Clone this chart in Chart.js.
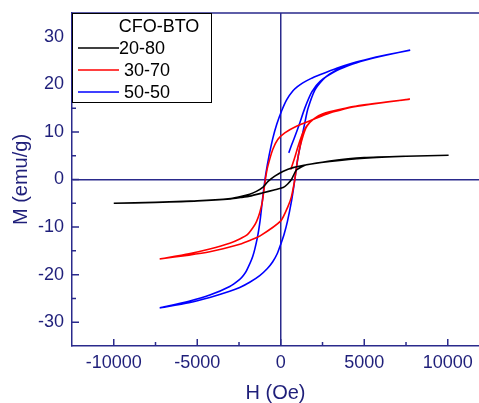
<!DOCTYPE html>
<html><head><meta charset="utf-8">
<script src="https://cdn.jsdelivr.net/npm/chart.js@4.4.0/dist/chart.umd.min.js"></script>
<style>html,body{margin:0;padding:0;background:#fff;overflow:hidden}#wrap{width:479px;height:403px}</style>
</head><body><div id="wrap"><canvas id="c" width="479" height="403"></canvas></div>
<script>
// ---- data ----
const legendTitle = 'CFO-BTO';
const seriesNames = ['20-80', '30-70', '50-50'];
const xTitle = 'H (Oe)';
const yTitle = 'M (emu/g)';
const xTickValues = [-10000, -7500, -5000, -2500, 0, 2500, 5000, 7500, 10000];
const xMajorTicks = [-10000, -5000, 0, 5000, 10000];
const yTickValues = [-30, -25, -20, -15, -10, -5, 0, 5, 10, 15, 20, 25, 30];
const yMajorTicks = [-30, -20, -10, 0, 10, 20, 30];

// 20-80 (black)
const hDown20 = [10050, 7500, 5000, 2935, 1740, 740, 120, -360, -760, -1060, -1460, -1860, -2400, -3000, -5000, -7500, -10000];
const mDown20 = [5.1, 4.9, 4.6, 3.9, 3.2, 2.5, 1.7, 0.7, -0.4, -1.6, -2.5, -3.1, -3.6, -4.0, -4.5, -4.8, -5.0];
const hUp20 = [-10000, -7500, -5000, -3000, -2400, -1860, -1060, -400, 140, 400, 640, 940, 1540, 2935, 5000, 7500, 10050];
const mUp20 = [-5.0, -4.8, -4.5, -4.1, -3.8, -3.5, -2.8, -2.2, -1.7, -1.0, 0, 2.0, 3.1, 3.8, 4.5, 4.9, 5.1];

// 30-70 (red)
const hInit30 = [600, 800, 1040, 1300, 1540, 2000, 2520, 3500, 5000, 7730];
const mInit30 = [2.1, 4.2, 7.0, 9.6, 11.2, 12.8, 13.8, 14.7, 15.7, 16.9];
const hDown30 = [7730, 5300, 4100, 2935, 1920, 940, 240, -180, -480, -780, -900, -1000, -1100, -1260, -1460, -1660, -2000, -2455, -3055, -4250, -5500, -7250];
const mDown30 = [16.9, 15.8, 15.2, 14.0, 12.6, 11.2, 9.8, 8.4, 6.3, 2.7, 0.5, -2.0, -4.6, -7.0, -8.9, -10.1, -11.6, -12.5, -13.4, -14.6, -15.6, -16.7];
const hUp30 = [-7250, -5500, -4250, -3055, -2455, -1860, -1260, 0, 440, 640, 840, 1000, 1200, 1500, 1740, 2000, 2400, 2935, 4100, 5300, 7730];
const mUp30 = [-16.7, -15.9, -15.2, -14.2, -13.6, -12.8, -11.9, -8.7, -5.6, -3.6, 0, 4.0, 7.5, 10.8, 12.0, 12.8, 13.5, 14.0, 15.1, 15.8, 16.9];

// 50-50 (blue)
const hInit50 = [480, 620, 800, 1000, 1140, 1440, 1860, 2340, 3350, 4310, 5500, 6350, 7750];
const mInit50 = [5.6, 7.0, 8.6, 10.5, 11.9, 15.0, 18.4, 20.6, 22.9, 24.3, 25.5, 26.2, 27.2];
const hDown50 = [7750, 6350, 5300, 4310, 3350, 2340, 1800, 1320, 1000, 720, 360, 60, -240, -480, -700, -880, -1000, -1120, -1240, -1400, -1680, -2040, -2240, -2455, -3055, -4250, -5500, -7250];
const mDown50 = [27.2, 26.2, 25.4, 24.5, 23.4, 22.0, 21.2, 20.3, 19.5, 18.6, 16.8, 14.5, 11.6, 8.6, 5.0, 1.5, -1.5, -5.0, -8.7, -12.2, -16.2, -19.1, -20.2, -21.0, -22.5, -24.3, -25.6, -27.0];
const hUp50 = [-7250, -5500, -4250, -3055, -2455, -1860, -1260, -800, -480, -200, 0, 200, 400, 640, 780, 900, 1020, 1270, 1440, 1620, 2040, 2520, 2935, 3500, 4310, 5500, 6350, 7750];
const mUp50 = [-27.0, -25.9, -24.8, -23.5, -22.7, -21.6, -20.2, -18.7, -17.3, -15.5, -13.6, -11.5, -8.8, -4.6, -1.5, 1.5, 4.4, 9.0, 11.9, 14.8, 18.8, 21.0, 22.2, 23.3, 24.4, 25.5, 26.2, 27.2];

// ---- build ----
function pts(h, m) { return h.map((v, i) => ({x: v, y: m[i]})); }
const AXIS = '#2a2a8c';
const TEXT = '#1f1f7a';
const FONT = "'Liberation Sans', Arial, sans-serif";

const datasets = [
  {label: seriesNames[0], data: [...pts(hDown20, mDown20), ...pts(hUp20, mUp20)], borderColor: '#000000'},
  {label: seriesNames[1], data: [...pts(hInit30, mInit30), ...pts(hDown30, mDown30), ...pts(hUp30, mUp30)], borderColor: '#ff0000'},
  {label: seriesNames[2], data: [...pts(hInit50, mInit50), ...pts(hDown50, mDown50), ...pts(hUp50, mUp50)], borderColor: '#0000ff'}
].map(d => Object.assign(d, {showLine: true, pointRadius: 0, borderWidth: 1.6, tension: 0.2, fill: false}));

const frame = {
  id: 'frame',
  afterDraw(chart) {
    const {ctx, chartArea: a, scales: {x, y}} = chart;
    ctx.save();
    ctx.strokeStyle = AXIS;
    ctx.lineWidth = 1.5;
    ctx.beginPath();
    ctx.moveTo(a.left, a.top); ctx.lineTo(a.right, a.top);
    x.ticks.forEach(t => {
      const px = x.getPixelForValue(t.value);
      const len = xMajorTicks.includes(t.value) ? 7 : 4;
      ctx.moveTo(px, a.bottom); ctx.lineTo(px, a.bottom - len);
    });
    y.ticks.forEach(t => {
      const py = y.getPixelForValue(t.value);
      const len = yMajorTicks.includes(t.value) ? 7 : 4;
      ctx.moveTo(a.left, py); ctx.lineTo(a.left + len, py);
    });
    ctx.stroke();

    // legend box
    const bx = a.left, by = a.top, bw = 139, bh = 89;
    ctx.fillStyle = '#ffffff';
    ctx.fillRect(bx, by, bw, bh);
    ctx.strokeStyle = '#000000';
    ctx.lineWidth = 1;
    ctx.strokeRect(bx + 0.5, by + 0.5, bw, bh);
    ctx.fillStyle = '#000000';
    ctx.font = '18px ' + FONT;
    ctx.textBaseline = 'middle';
    ctx.textAlign = 'center';
    ctx.fillText(legendTitle, bx + 87, by + 14);
    ctx.textAlign = 'left';
    const gaps = [0, 5, 5];
    chart.data.datasets.forEach((d, i) => {
      const ly = by + 35 + i * 22;
      ctx.strokeStyle = d.borderColor;
      ctx.lineWidth = 1.5;
      ctx.beginPath(); ctx.moveTo(bx + 6, ly); ctx.lineTo(bx + 47, ly); ctx.stroke();
      ctx.fillStyle = '#000000';
      ctx.fillText(d.label, bx + 47 + gaps[i], ly + 1);
    });
    ctx.restore();
  }
};

new Chart(document.getElementById('c'), {
  type: 'scatter',
  data: {datasets},
  options: {
    responsive: false,
    animation: false,
    devicePixelRatio: 1,
    layout: {padding: {top: 13, left: 0, right: 0, bottom: 0}},
    plugins: {legend: {display: false}, tooltip: {enabled: false}},
    scales: {
      x: {
        type: 'linear', min: -12500, max: 11870,
        afterBuildTicks: s => { s.ticks = xTickValues.map(v => ({value: v})); },
        afterFit: s => { s.height = 57; s.paddingLeft = 0; s.paddingRight = 0; },
        ticks: {color: TEXT, font: {family: FONT, size: 18}, padding: 6, maxRotation: 0, autoSkip: false,
          callback: v => xMajorTicks.includes(v) ? String(v) : ''},
        grid: {drawTicks: false, lineWidth: 1.5, color: c => (c.tick && c.tick.value === 0) ? AXIS : 'rgba(0,0,0,0)'},
        border: {color: AXIS, width: 1.5},
        title: {display: true, text: xTitle, color: TEXT, font: {family: FONT, size: 20, lineHeight: 1}, padding: {top: 0, bottom: 0}}
      },
      y: {
        type: 'linear', min: -35, max: 35,
        afterBuildTicks: s => { s.ticks = yTickValues.map(v => ({value: v})); },
        afterFit: s => { s.width = 72; s.paddingTop = 0; s.paddingBottom = 0; },
        ticks: {color: TEXT, font: {family: FONT, size: 18}, padding: 8, autoSkip: false,
          callback: v => yMajorTicks.includes(v) ? String(v) : ''},
        grid: {drawTicks: false, lineWidth: 1.5, color: c => (c.tick && c.tick.value === 0) ? AXIS : 'rgba(0,0,0,0)'},
        border: {color: AXIS, width: 1.5},
        title: {display: true, text: yTitle, color: TEXT, font: {family: FONT, size: 20, lineHeight: 1}, padding: {top: 11, bottom: 0}}
      }
    }
  },
  plugins: [frame]
});
</script>
</body></html>
